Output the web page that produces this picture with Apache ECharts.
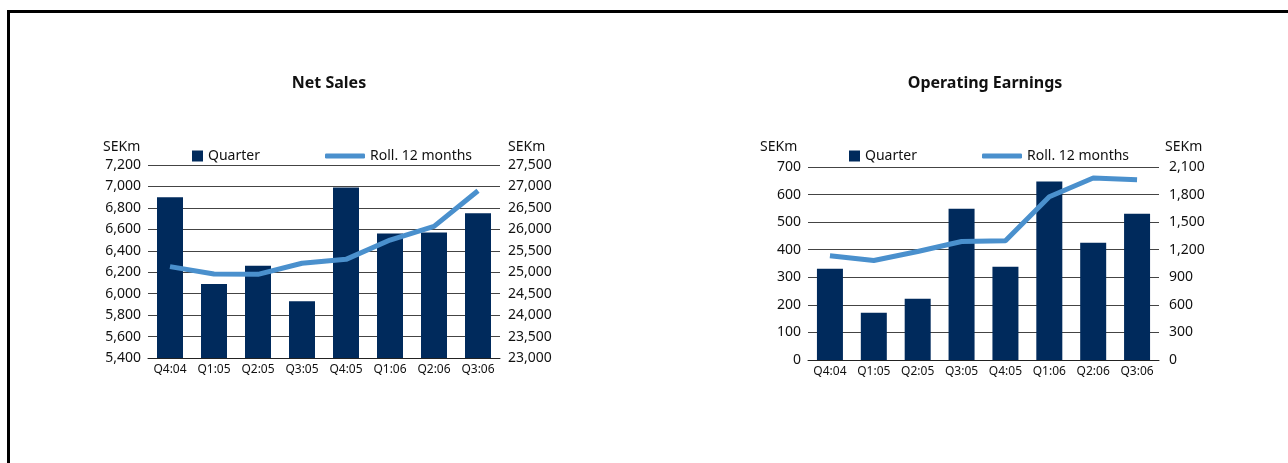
<!DOCTYPE html>
<html><head><meta charset="utf-8">
<script src="https://cdn.jsdelivr.net/npm/echarts@6/dist/echarts.min.js"></script>
<style>
html,body{margin:0;padding:0;background:#fff;}
#c{width:1288px;height:463px;position:absolute;left:0;top:0;}
#frame{position:absolute;left:7px;top:10px;width:1400px;height:600px;border-top:3px solid #000;border-left:3px solid #000;}
</style></head>
<body>
<div id="frame"></div>
<div id="c"></div>
<script>
var categories = ['Q4:04','Q1:05','Q2:05','Q3:05','Q4:05','Q1:06','Q2:06','Q3:06'];
var salesQuarter = [6900, 6090, 6260, 5930, 6990, 6560, 6570, 6750];
var salesRolling = [25130, 24960, 24950, 25210, 25300, 25750, 26070, 26900];
var earnQuarter = [331, 171, 222, 549, 338, 647, 425, 530];
var earnRolling = [1134, 1083, 1181, 1290, 1297, 1777, 1980, 1962];

var FONT = '"Noto Sans", "Open Sans", sans-serif';
var BAR = '#002a5c';
var LINE = '#4a90cd';
var chart = echarts.init(document.getElementById('c'), null, {renderer:'canvas'});

function yAxis(gridIndex, min, max, interval, pos, margin) {
  return {
    type:'value', gridIndex:gridIndex, min:min, max:max, interval:interval, position:pos,
    axisLine:{show:false}, axisTick:{show:false},
    axisLabel:{color:'#111', fontSize:14, fontFamily:FONT, margin:margin},
    splitLine:{show:pos==='left', lineStyle:{color:'#444', width:1}}
  };
}
function xAxis(gridIndex) {
  return {
    type:'category', gridIndex:gridIndex, data:categories,
    axisLine:{lineStyle:{color:'#222', width:1}}, axisTick:{show:false},
    axisLabel:{color:'#111', fontSize:12, fontFamily:FONT, margin:6}
  };
}
var lblStyle = {fontSize:14, fontFamily:FONT, fill:'#111'};
var legText = {fontSize:14, color:'#111', fontFamily:FONT};

chart.setOption({
  animation:false,
  textStyle:{fontFamily:FONT},
  title:[
    {text:'Net Sales', left:324, top:70, textAlign:'center', textStyle:{fontSize:16, fontWeight:'bold', color:'#111', fontFamily:FONT}},
    {text:'Operating Earnings', left:980, top:70, textAlign:'center', textStyle:{fontSize:16, fontWeight:'bold', color:'#111', fontFamily:FONT}}
  ],
  legend:[
    {data:['Quarter'], left:192, top:149, padding:0, itemWidth:11, itemHeight:11, itemGap:6, icon:'rect', textStyle:legText},
    {data:['Roll. 12 months'], left:325, top:149, padding:0, itemWidth:40, itemHeight:5, icon:'roundRect', textStyle:legText},
    {data:['Quarter'], left:849, top:149, padding:0, itemWidth:11, itemHeight:11, itemGap:6, icon:'rect', textStyle:legText},
    {data:['Roll. 12 months'], left:982, top:149, padding:0, itemWidth:40, itemHeight:5, icon:'roundRect', textStyle:legText}
  ],
  grid:[
    {left:148, top:165, width:352, height:193},
    {left:808, top:167, width:351, height:193}
  ],
  xAxis:[xAxis(0), xAxis(1)],
  yAxis:[
    yAxis(0, 5400, 7200, 200, 'left', 7),
    yAxis(0, 23000, 27500, 500, 'right', 8),
    yAxis(1, 0, 700, 100, 'left', 7),
    yAxis(1, 0, 2100, 300, 'right', 10)
  ],
  graphic:[
    {type:'text', left:103, top:140, style:Object.assign({text:'SEKm'}, lblStyle)},
    {type:'text', left:508, top:140, style:Object.assign({text:'SEKm'}, lblStyle)},
    {type:'text', left:760, top:140, style:Object.assign({text:'SEKm'}, lblStyle)},
    {type:'text', left:1165, top:140, style:Object.assign({text:'SEKm'}, lblStyle)}
  ],
  series:[
    {name:'Quarter', type:'bar', xAxisIndex:0, yAxisIndex:0, data:salesQuarter, barWidth:26, itemStyle:{color:BAR}},
    {name:'Roll. 12 months', type:'line', xAxisIndex:0, yAxisIndex:1, data:salesRolling, symbol:'none', lineStyle:{color:LINE, width:5}, itemStyle:{color:LINE}},
    {name:'Quarter', type:'bar', xAxisIndex:1, yAxisIndex:2, data:earnQuarter, barWidth:26, itemStyle:{color:BAR}},
    {name:'Roll. 12 months', type:'line', xAxisIndex:1, yAxisIndex:3, data:earnRolling, symbol:'none', lineStyle:{color:LINE, width:5}, itemStyle:{color:LINE}}
  ]
});
</script>
</body></html>
